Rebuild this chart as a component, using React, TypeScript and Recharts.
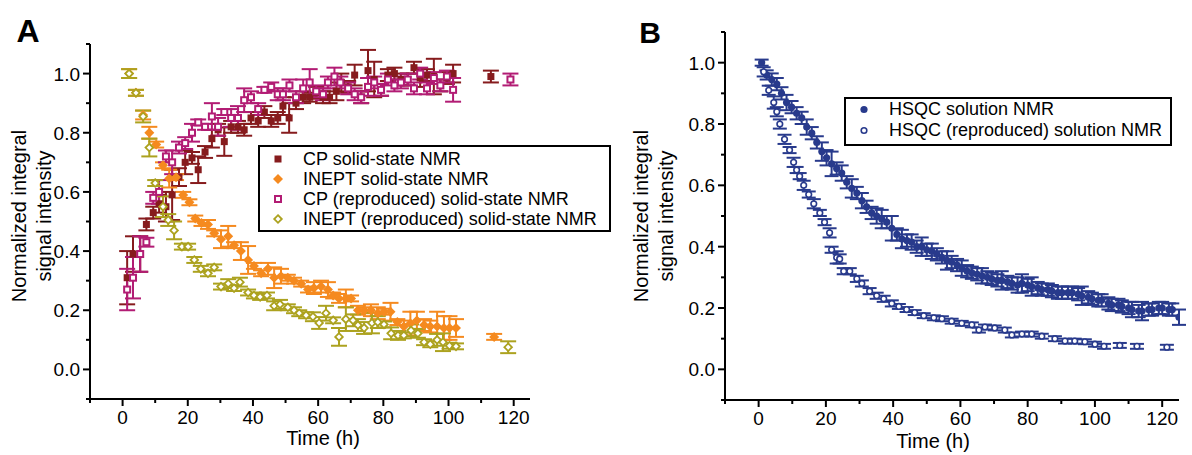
import React from 'react';
import { ScatterChart, Scatter, XAxis, YAxis, ErrorBar } from 'recharts';

const FONT = '"Liberation Sans", Arial, sans-serif';

// Panel A — solid-state NMR
const cpTime = [1.4, 3.2, 5.4, 7.3, 9.4, 11.2, 13.3, 15.2, 17.3, 19.2, 21.3, 23.2, 25.3, 27.4, 29.3, 31.2, 33.3, 35.4, 37.3, 39.4, 41.6, 43.5, 45.6, 47.6, 49.2, 51.1, 53.2, 55.4, 57.4, 59.4, 61.5, 63.5, 65.6, 67.1, 69.2, 71.2, 73.2, 75.3, 77.2, 79.3, 81.4, 83.4, 85.4, 87.5, 89.4, 91.3, 93.4, 95.5, 97.5, 99.5, 101.4, 113];
const cpValue = [0.31, 0.39, 0.39, 0.49, 0.53, 0.56, 0.55, 0.59, 0.65, 0.7, 0.715, 0.675, 0.735, 0.78, 0.81, 0.77, 0.82, 0.82, 0.81, 0.85, 0.84, 0.87, 0.84, 0.85, 0.89, 0.85, 0.9, 0.92, 0.92, 0.935, 0.92, 0.92, 0.94, 0.97, 0.955, 0.995, 0.92, 1.01, 0.98, 0.945, 0.995, 1.0, 0.98, 0.98, 1.02, 0.985, 0.995, 0.99, 0.96, 0.985, 1.0, 0.99];
const cpErr = [0.09, 0.06, 0.06, 0.02, 0.02, 0.03, 0.05, 0.085, 0.03, 0.04, 0.02, 0.045, 0.02, 0.03, 0.02, 0.048, 0.02, 0.02, 0.02, 0.02, 0.02, 0.02, 0.02, 0.02, 0.03, 0.05, 0.02, 0.02, 0.015, 0.02, 0.02, 0.02, 0.03, 0.03, 0.02, 0.035, 0.02, 0.07, 0.06, 0.02, 0.02, 0.02, 0.02, 0.02, 0.02, 0.03, 0.02, 0.06, 0.02, 0.02, 0.03, 0.02];

const inTime = [2, 4.1, 6.3, 8.2, 10.3, 12.4, 14.3, 16.4, 18.6, 20.5, 22.3, 24.2, 26.2, 28.1, 30.2, 32.4, 34.2, 36.3, 38.5, 40.3, 42.5, 44.6, 46.5, 48.6, 50.7, 52.6, 54.8, 56.9, 58.7, 60.9, 63.0, 64.6, 66.4, 68.5, 70.1, 72.2, 74.1, 76.2, 78.3, 80.2, 82.2, 84.3, 86.3, 88.3, 90.3, 92.5, 94.4, 96.5, 98.6, 100.3, 102.3, 114];
const inValue = [1.0, 0.935, 0.86, 0.8, 0.76, 0.69, 0.645, 0.65, 0.59, 0.565, 0.51, 0.495, 0.49, 0.46, 0.44, 0.45, 0.42, 0.4, 0.37, 0.35, 0.325, 0.34, 0.31, 0.315, 0.31, 0.3, 0.29, 0.27, 0.275, 0.28, 0.27, 0.25, 0.24, 0.24, 0.24, 0.2, 0.2, 0.2, 0.19, 0.195, 0.195, 0.16, 0.145, 0.155, 0.165, 0.15, 0.145, 0.145, 0.14, 0.14, 0.14, 0.11];
const inErr = [0.015, 0.01, 0.015, 0.02, 0.01, 0.01, 0.03, 0.01, 0.01, 0.01, 0.01, 0.01, 0.015, 0.01, 0.03, 0.035, 0.01, 0.03, 0.047, 0.01, 0.01, 0.02, 0.035, 0.025, 0.01, 0.01, 0.01, 0.01, 0.02, 0.02, 0.025, 0.01, 0.015, 0.03, 0.01, 0.015, 0.01, 0.02, 0.02, 0.01, 0.03, 0.01, 0.02, 0.04, 0.03, 0.02, 0.02, 0.05, 0.04, 0.04, 0.03, 0.01];

const cprTime = [1.4, 3.2, 5.4, 7.3, 9.4, 11.2, 13.3, 15.2, 17.3, 19.2, 21.3, 23.2, 25.3, 27.4, 29.3, 31.2, 33.3, 35.4, 37.3, 39.4, 41.6, 43.5, 45.6, 47.6, 49.2, 51.2, 53.2, 55.4, 57.4, 59.4, 61.5, 63.0, 65.0, 66.8, 69.2, 71.2, 73.2, 75.3, 77.2, 79.3, 81.4, 83.4, 85.4, 87.5, 89.4, 91.3, 93.4, 95.5, 97.5, 99.5, 101.4, 119];
const cprValue = [0.27, 0.31, 0.39, 0.43, 0.58, 0.6, 0.72, 0.7, 0.75, 0.765, 0.8, 0.835, 0.82, 0.855, 0.82, 0.87, 0.85, 0.85, 0.91, 0.92, 0.88, 0.945, 0.955, 0.93, 0.93, 0.96, 0.92, 0.95, 0.97, 0.94, 0.93, 0.97, 0.99, 0.97, 0.95, 0.93, 0.92, 0.955, 0.97, 0.945, 0.98, 0.96, 0.97, 0.98, 0.95, 1.0, 0.95, 0.985, 0.96, 0.99, 0.945, 0.98];
const cprErr = [0.07, 0.07, 0.06, 0.015, 0.02, 0.04, 0.02, 0.04, 0.02, 0.02, 0.03, 0.01, 0.01, 0.045, 0.03, 0.01, 0.03, 0.04, 0.04, 0.02, 0.02, 0.01, 0.015, 0.02, 0.02, 0.02, 0.02, 0.03, 0.045, 0.02, 0.02, 0.02, 0.03, 0.02, 0.02, 0.02, 0.02, 0.03, 0.02, 0.02, 0.02, 0.02, 0.02, 0.02, 0.02, 0.02, 0.02, 0.02, 0.02, 0.02, 0.04, 0.02];

const inrTime = [2, 4.1, 6.3, 8.2, 10, 12.4, 14, 15.8, 18.2, 20.1, 22, 24, 26.2, 28.1, 30.2, 32.4, 34.2, 36, 38.5, 40.3, 42.2, 44.3, 46.5, 48.3, 50.7, 52.6, 54.2, 56.3, 58.4, 60.3, 62.4, 64.6, 66.4, 68.5, 70.7, 72.2, 74.1, 76.5, 78.3, 80.2, 82.4, 84.5, 86.3, 88.5, 90.6, 92.5, 94.4, 96.5, 98.3, 100.3, 102.3, 118.3];
const inrValue = [1.0, 0.935, 0.855, 0.75, 0.63, 0.55, 0.505, 0.47, 0.415, 0.415, 0.37, 0.34, 0.325, 0.345, 0.28, 0.29, 0.275, 0.295, 0.26, 0.25, 0.245, 0.25, 0.215, 0.22, 0.21, 0.2, 0.19, 0.183, 0.178, 0.157, 0.19, 0.166, 0.11, 0.17, 0.166, 0.15, 0.14, 0.157, 0.16, 0.152, 0.122, 0.115, 0.115, 0.132, 0.122, 0.092, 0.085, 0.1, 0.092, 0.08, 0.078, 0.075];
const inrErr = [0.015, 0.01, 0.02, 0.03, 0.01, 0.035, 0.02, 0.03, 0.01, 0.01, 0.01, 0.01, 0.01, 0.01, 0.01, 0.015, 0.01, 0.015, 0.01, 0.01, 0.01, 0.01, 0.015, 0.015, 0.01, 0.01, 0.01, 0.01, 0.015, 0.02, 0.025, 0.01, 0.03, 0.04, 0.02, 0.02, 0.02, 0.035, 0.02, 0.01, 0.02, 0.015, 0.01, 0.02, 0.015, 0.01, 0.01, 0.02, 0.03, 0.01, 0.01, 0.02];

// Panel B — solution NMR
const hsTime = [0.9, 2.4, 3.9, 5.4, 6.8, 8.3, 9.8, 11.3, 12.8, 14.3, 15.8, 17.3, 18.8, 20.2, 21.7, 23.2, 24.7, 26.2, 27.7, 29.2, 30.7, 32.1, 33.6, 35.1, 36.6, 38.1, 39.6, 41.1, 42.6, 44.1, 45.5, 47, 48.5, 50, 51.5, 53, 54.5, 56, 57.4, 59, 60.4, 62, 63.4, 65, 66.4, 68, 69.3, 71, 72.3, 74, 75.3, 77, 78.3, 80, 81.2, 83, 84.2, 86, 87.2, 89, 90.2, 92, 93.2, 95, 96.1, 98, 99.1, 101, 102, 104, 105, 107, 108, 110, 111, 113, 114, 116, 117, 119, 120, 122, 123, 125];
const hsValue = [1.0, 0.96, 0.945, 0.93, 0.9, 0.87, 0.855, 0.835, 0.82, 0.79, 0.77, 0.74, 0.71, 0.69, 0.67, 0.655, 0.64, 0.61, 0.59, 0.575, 0.55, 0.53, 0.51, 0.5, 0.49, 0.48, 0.46, 0.44, 0.425, 0.42, 0.415, 0.4, 0.4, 0.39, 0.385, 0.375, 0.365, 0.355, 0.35, 0.34, 0.33, 0.32, 0.315, 0.31, 0.305, 0.3, 0.295, 0.29, 0.29, 0.285, 0.28, 0.275, 0.28, 0.275, 0.27, 0.265, 0.26, 0.26, 0.255, 0.25, 0.25, 0.25, 0.25, 0.245, 0.24, 0.235, 0.23, 0.225, 0.225, 0.215, 0.21, 0.21, 0.205, 0.2, 0.195, 0.19, 0.19, 0.195, 0.195, 0.2, 0.2, 0.195, 0.195, 0.17];
const hsErr = [0.01, 0.015, 0.02, 0.02, 0.02, 0.025, 0.02, 0.02, 0.02, 0.025, 0.02, 0.02, 0.03, 0.025, 0.04, 0.02, 0.025, 0.02, 0.03, 0.02, 0.025, 0.02, 0.02, 0.025, 0.03, 0.02, 0.04, 0.02, 0.03, 0.02, 0.025, 0.02, 0.03, 0.02, 0.025, 0.02, 0.02, 0.03, 0.02, 0.02, 0.025, 0.02, 0.02, 0.02, 0.025, 0.02, 0.02, 0.02, 0.03, 0.02, 0.02, 0.025, 0.03, 0.02, 0.03, 0.02, 0.02, 0.02, 0.02, 0.02, 0.02, 0.02, 0.02, 0.02, 0.03, 0.02, 0.02, 0.02, 0.02, 0.02, 0.02, 0.02, 0.02, 0.02, 0.025, 0.02, 0.03, 0.02, 0.02, 0.02, 0.02, 0.02, 0.02, 0.025];

const hsrTime = [1.5, 3, 4.5, 5.4, 6.3, 7.7, 9.2, 10.4, 11.3, 12.2, 13.4, 14.9, 16.4, 18.2, 19.6, 21.1, 21.7, 23.2, 24.1, 25.3, 27.1, 29.2, 30.7, 33, 35.1, 37.2, 39.6, 41.7, 44, 46.4, 49.1, 52.1, 54.5, 57.4, 60.4, 63.4, 65.5, 67.3, 70.2, 73.2, 75.3, 78.3, 81.2, 84.2, 88.1, 91.1, 94, 97, 100, 102.7, 107.4, 112.5, 121.4];
const hsrValue = [0.97, 0.91, 0.87, 0.84, 0.8, 0.75, 0.715, 0.675, 0.65, 0.63, 0.6, 0.57, 0.54, 0.51, 0.48, 0.445, 0.39, 0.365, 0.36, 0.32, 0.32, 0.295, 0.28, 0.255, 0.24, 0.23, 0.215, 0.205, 0.195, 0.185, 0.175, 0.168, 0.165, 0.157, 0.15, 0.145, 0.128, 0.138, 0.135, 0.128, 0.112, 0.115, 0.115, 0.108, 0.1, 0.092, 0.092, 0.09, 0.082, 0.075, 0.078, 0.075, 0.072];
const hsrErr = [0.015, 0.015, 0.02, 0.015, 0.015, 0.015, 0.01, 0.015, 0.01, 0.01, 0.015, 0.01, 0.015, 0.01, 0.01, 0.015, 0.01, 0.02, 0.015, 0.01, 0.01, 0.01, 0.01, 0.01, 0.01, 0.01, 0.01, 0.008, 0.008, 0.008, 0.008, 0.008, 0.008, 0.008, 0.008, 0.008, 0.008, 0.008, 0.008, 0.008, 0.008, 0.008, 0.008, 0.008, 0.008, 0.008, 0.008, 0.008, 0.008, 0.008, 0.008, 0.008, 0.008];

const xTicks = [-10, 0, 10, 20, 30, 40, 50, 60, 70, 80, 90, 100, 110, 120];
const yTicks = [-0.1, 0, 0.1, 0.2, 0.3, 0.4, 0.5, 0.6, 0.7, 0.8, 0.9, 1.0, 1.1];

const C_CP = '#861b1d';
const C_IN = '#f58a1f';
const C_CPR = '#b21c74';
const C_INR = '#aca21f';
const C_HS = '#283a8c';

const rows = (t: number[], v: number[], e: number[]) => t.map((x, i) => ({ t: x, v: v[i], e: e[i] }));

const cpData = rows(cpTime, cpValue, cpErr);
const inData = rows(inTime, inValue, inErr);
const cprData = rows(cprTime, cprValue, cprErr);
const inrData = rows(inrTime, inrValue, inrErr);
const hsData = rows(hsTime, hsValue, hsErr);
const hsrData = rows(hsrTime, hsrValue, hsrErr);

type Kind = 'sq' | 'dia' | 'sqo' | 'diao' | 'cir' | 'ciro';

const Marker = ({ kind, color, cx, cy }: { kind: Kind; color: string; cx: number; cy: number }) => {
  switch (kind) {
    case 'sq':
      return <rect x={cx - 3.5} y={cy - 3.5} width={7} height={7} fill={color} />;
    case 'dia':
      return <polygon points={`${cx},${cy - 5} ${cx + 5},${cy} ${cx},${cy + 5} ${cx - 5},${cy}`} fill={color} />;
    case 'sqo':
      return <rect x={cx - 3} y={cy - 3} width={6} height={6} fill="#fff" stroke={color} strokeWidth={2} />;
    case 'diao':
      return <polygon points={`${cx},${cy - 3.8} ${cx + 3.8},${cy} ${cx},${cy + 3.8} ${cx - 3.8},${cy}`} fill="#fff" stroke={color} strokeWidth={1.8} />;
    case 'cir':
      return <circle cx={cx} cy={cy} r={3.6} fill={color} />;
    default:
      return <circle cx={cx} cy={cy} r={2.8} fill="#fff" stroke={color} strokeWidth={1.6} />;
  }
};

const shape = (kind: Kind, color: string) => (p: any) => <Marker kind={kind} color={color} cx={p.cx} cy={p.cy} />;

const XTick = (p: any) => {
  const v = p.payload.value;
  const major = Math.round(v) % 20 === 0;
  return (
    <g>
      <line x1={p.x} x2={p.x} y1={p.y} y2={p.y + (major ? 7 : 4)} stroke="#000" strokeWidth={2} />
      {major && (
        <text x={p.x} y={p.y + 25} textAnchor="middle" fontSize={19} fontFamily={FONT} fill="#000">
          {v}
        </text>
      )}
    </g>
  );
};

const YTick = (p: any) => {
  const v = p.payload.value;
  const k = Math.round(v * 10);
  const major = k % 2 === 0;
  return (
    <g>
      <line x1={p.x} x2={p.x - (major ? 7 : 4)} y1={p.y} y2={p.y} stroke="#000" strokeWidth={2} />
      {major && (
        <text x={p.x - 10} y={p.y + 7} textAnchor="end" fontSize={19} fontFamily={FONT} fill="#000">
          {(k / 10).toFixed(1)}
        </text>
      )}
    </g>
  );
};

const axisLine = { stroke: '#000', strokeWidth: 2 };

const YTitle = ({ x, y }: { x: number; y: number }) => (
  <div
    style={{
      position: 'absolute',
      left: x,
      top: y,
      transform: 'translate(-50%, -50%) rotate(-90deg)',
      fontFamily: FONT,
      fontSize: 20,
      lineHeight: '25px',
      textAlign: 'center',
      whiteSpace: 'nowrap',
    }}
  >
    Normalized integral
    <br />
    signal intensity
  </div>
);

const Label = ({ x, y, text, size, bold }: { x: number; y: number; text: string; size: number; bold?: boolean }) => (
  <div
    style={{
      position: 'absolute',
      left: x,
      top: y,
      transform: 'translate(-50%, -50%)',
      fontFamily: FONT,
      fontSize: size,
      fontWeight: bold ? 'bold' : 'normal',
      whiteSpace: 'nowrap',
    }}
  >
    {text}
  </div>
);

const LegendBox = ({
  left,
  top,
  width,
  padTop,
  padBottom,
  rowH,
  items,
}: {
  left: number;
  top: number;
  width: number;
  padTop: number;
  padBottom: number;
  rowH: number;
  items: { kind: Kind; color: string; label: string }[];
}) => (
  <div
    style={{
      position: 'absolute',
      left,
      top,
      width,
      border: '2px solid #000',
      paddingTop: padTop,
      paddingBottom: padBottom,
      background: '#fff',
      fontFamily: FONT,
      fontSize: 18,
    }}
  >
    {items.map((it) => (
      <div key={it.label} style={{ display: 'flex', alignItems: 'center', height: rowH }}>
        <svg width={43} height={rowH} style={{ flex: 'none' }}>
          <Marker kind={it.kind} color={it.color} cx={18} cy={rowH / 2} />
        </svg>
        <span>{it.label}</span>
      </div>
    ))}
  </div>
);

export default function App() {
  return (
    <div style={{ position: 'absolute', left: 0, top: 0, width: 1192, height: 455, background: '#fff', overflow: 'hidden' }}>
      <div style={{ position: 'absolute', left: 0, top: 0 }}>
        <ScatterChart width={560} height={455} margin={{ top: 44, right: 30, bottom: 26, left: 0 }}>
          <XAxis
            dataKey="t"
            type="number"
            domain={[-10, 125]}
            ticks={xTicks}
            interval={0}
            tick={<XTick />}
            tickSize={0}
            tickMargin={0}
            tickLine={false}
            axisLine={axisLine}
            height={30}
            allowDataOverflow
          />
          <YAxis
            dataKey="v"
            type="number"
            domain={[-0.1, 1.1]}
            ticks={yTicks}
            interval={0}
            tick={<YTick />}
            tickSize={0}
            tickMargin={0}
            tickLine={false}
            axisLine={axisLine}
            width={90}
            allowDataOverflow
          />
          <Scatter data={cpData} shape={shape('sq', C_CP)} isAnimationActive={false}>
            <ErrorBar dataKey="e" direction="y" width={8} stroke={C_CP} strokeWidth={2} />
          </Scatter>
          <Scatter data={inData} shape={shape('dia', C_IN)} isAnimationActive={false}>
            <ErrorBar dataKey="e" direction="y" width={8} stroke={C_IN} strokeWidth={2} />
          </Scatter>
          <Scatter data={cprData} shape={shape('sqo', C_CPR)} isAnimationActive={false}>
            <ErrorBar dataKey="e" direction="y" width={8} stroke={C_CPR} strokeWidth={2} />
          </Scatter>
          <Scatter data={inrData} shape={shape('diao', C_INR)} isAnimationActive={false}>
            <ErrorBar dataKey="e" direction="y" width={8} stroke={C_INR} strokeWidth={2} />
          </Scatter>
        </ScatterChart>
      </div>

      <div style={{ position: 'absolute', left: 600, top: 0 }}>
        <ScatterChart width={592} height={455} margin={{ top: 32, right: 13, bottom: 25, left: 0 }}>
          <XAxis
            dataKey="t"
            type="number"
            domain={[-10, 125]}
            ticks={xTicks}
            interval={0}
            tick={<XTick />}
            tickSize={0}
            tickMargin={0}
            tickLine={false}
            axisLine={axisLine}
            height={30}
            allowDataOverflow
          />
          <YAxis
            dataKey="v"
            type="number"
            domain={[-0.1, 1.1]}
            ticks={yTicks}
            interval={0}
            tick={<YTick />}
            tickSize={0}
            tickMargin={0}
            tickLine={false}
            axisLine={axisLine}
            width={125}
            allowDataOverflow
          />
          <Scatter data={hsData} shape={shape('cir', C_HS)} isAnimationActive={false}>
            <ErrorBar dataKey="e" direction="y" width={7} stroke={C_HS} strokeWidth={2} />
          </Scatter>
          <Scatter data={hsrData} shape={shape('ciro', C_HS)} isAnimationActive={false}>
            <ErrorBar dataKey="e" direction="y" width={7} stroke={C_HS} strokeWidth={2} />
          </Scatter>
        </ScatterChart>
      </div>

      <Label x={28} y={31} text="A" size={32} bold />
      <Label x={650} y={33} text="B" size={30} bold />
      <YTitle x={32} y={216} />
      <YTitle x={654} y={216} />
      <Label x={323} y={438} text="Time (h)" size={20} />
      <Label x={933} y={441} text="Time (h)" size={20} />

      <LegendBox
        left={258}
        top={145}
        width={349}
        padTop={2}
        padBottom={1}
        rowH={20}
        items={[
          { kind: 'sq', color: C_CP, label: 'CP solid-state NMR' },
          { kind: 'dia', color: C_IN, label: 'INEPT solid-state NMR' },
          { kind: 'sqo', color: C_CPR, label: 'CP (reproduced) solid-state NMR' },
          { kind: 'diao', color: C_INR, label: 'INEPT (reproduced) solid-state NMR' },
        ]}
      />
      <LegendBox
        left={844}
        top={97}
        width={324}
        padTop={0}
        padBottom={3}
        rowH={21}
        items={[
          { kind: 'cir', color: C_HS, label: 'HSQC solution NMR' },
          { kind: 'ciro', color: C_HS, label: 'HSQC (reproduced) solution NMR' },
        ]}
      />
    </div>
  );
}
